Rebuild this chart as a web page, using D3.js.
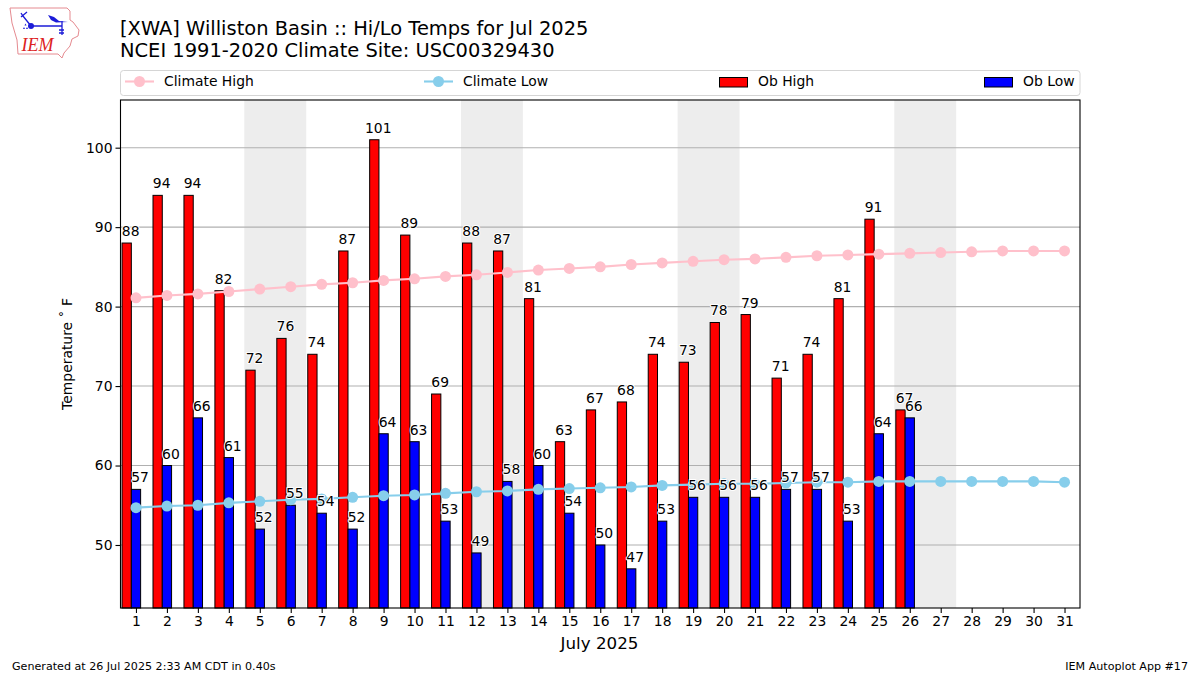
<!DOCTYPE html>
<html><head><meta charset="utf-8">
<script src="https://cdn.jsdelivr.net/npm/d3@7/dist/d3.min.js"></script>
<style>html,body{margin:0;padding:0;background:#fff}svg{display:block}text{font-family:"DejaVu Sans",sans-serif;fill:#000}</style>
</head><body><svg id="c" width="1200" height="675"></svg>
<script>
const days = d3.range(1, 32);
const obHigh = [88,94,94,82,72,76,74,87,101,89,69,88,87,81,63,67,68,74,73,78,79,71,74,81,91,67];
const obLow = [57,60,66,61,52,55,54,52,64,63,53,49,58,60,54,50,47,53,56,56,56,57,57,53,64,66];
const climateHigh = [81.1,81.4,81.6,81.9,82.2,82.5,82.8,83.0,83.3,83.5,83.8,84.0,84.3,84.6,84.8,85.0,85.3,85.5,85.7,85.9,86.0,86.2,86.4,86.5,86.6,86.7,86.8,86.9,87.0,87.0,87.0];
const climateLow = [54.7,54.9,55.0,55.3,55.5,55.7,55.8,56.0,56.2,56.3,56.5,56.7,56.8,57.0,57.1,57.2,57.3,57.5,57.6,57.7,57.7,57.8,57.9,57.9,58.0,58.0,58.0,58.0,58.0,58.0,57.9];
const weekends = [[5,6],[12,13],[19,20],[26,27]];
const yTicks = [50,60,70,80,90,100];
const titleLines = ["[XWA] Williston Basin :: Hi/Lo Temps for Jul 2025","NCEI 1991-2020 Climate Site: USC00329430"];

const L=120.5,R=1080,T=100,B=608;
const svg=d3.select("#c");
const x=d3.scaleLinear().domain([0.5,31.5]).range([L,R]);
const y=d3.scaleLinear().domain([42.07,106]).range([B,T]);
const barW=0.3;
const plot=svg.append("g");

plot.selectAll("rect.wk").data(weekends).join("rect").attr("class","wk")
  .attr("x",d=>x(d[0]-0.5)).attr("width",d=>x(d[1]+0.5)-x(d[0]-0.5))
  .attr("y",T).attr("height",B-T).attr("fill","#ededed");
plot.selectAll("line.g").data(yTicks).join("line").attr("class","g")
  .attr("x1",L).attr("x2",R).attr("y1",d=>y(d)).attr("y2",d=>y(d))
  .attr("stroke","#b0b0b0").attr("stroke-width",1.1);

function bars(vals,off,col){
  plot.selectAll("rect.b"+col).data(vals).join("rect").attr("class","b"+col)
   .attr("x",(d,i)=>x(days[i]+off-barW/2)).attr("width",x(barW)-x(0))
   .attr("y",d=>y(d)).attr("height",d=>B-y(d))
   .attr("fill",col).attr("stroke","#000").attr("stroke-width",1);
}
bars(obHigh,-0.3,"red");
bars(obLow,0,"blue");

function climate(vals,col){
  const line=d3.line().x((d,i)=>x(days[i])).y(d=>y(d));
  plot.append("path").attr("d",line(vals)).attr("fill","none").attr("stroke",col).attr("stroke-width",2.1);
  plot.selectAll("circle.c"+col).data(vals).join("circle").attr("class","c"+col)
   .attr("cx",(d,i)=>x(days[i])).attr("cy",d=>y(d)).attr("r",5.5).attr("fill",col);
}
climate(climateHigh,"pink");
climate(climateLow,"skyblue");

function labels(vals,off){
  const g=plot.append("g");
  g.selectAll("text").data(vals).join("text")
   .attr("x",(d,i)=>x(days[i]+off)+4).attr("y",d=>y(d)-7)
   .attr("text-anchor","middle").attr("font-size",13.9).text(d=>d)
   .attr("stroke","#fff").attr("stroke-width",2).attr("paint-order","stroke").attr("stroke-linejoin","round");
}
labels(obHigh,-0.3);
labels(obLow,0);

plot.append("rect").attr("x",L).attr("y",T).attr("width",R-L).attr("height",B-T)
  .attr("fill","none").attr("stroke","#000").attr("stroke-width",1.1);

const xAxis=d3.axisBottom(x).tickValues(days).tickFormat(d3.format("d")).tickSize(5).tickPadding(3);
const gx=svg.append("g").attr("transform",`translate(0,${B})`).call(xAxis);
gx.select(".domain").remove();
gx.selectAll("text").attr("font-size",13.9).attr("font-family",'"DejaVu Sans"');
gx.selectAll("line").attr("stroke","#000").attr("stroke-width",1.1);
const yAxis=d3.axisLeft(y).tickValues(yTicks).tickSize(5).tickPadding(3);
const gy=svg.append("g").attr("transform",`translate(${L},0)`).call(yAxis);
gy.select(".domain").remove();
gy.selectAll("text").attr("font-size",13.9).attr("font-family",'"DejaVu Sans"');
gy.selectAll("line").attr("stroke","#000").attr("stroke-width",1.1);

svg.append("text").attr("x",599.5).attr("y",649).attr("text-anchor","middle").attr("font-size",16.7).text("July 2025");
svg.append("text").attr("transform","translate(72,354) rotate(-90)").attr("text-anchor","middle").attr("font-size",13.9).text("Temperature \u02DA F");

svg.selectAll("text.t").data(titleLines).join("text").attr("class","t")
  .attr("x",120).attr("y",(d,i)=>35+i*22).attr("font-size",19.45).text(d=>d);

svg.append("text").attr("x",12).attr("y",670).attr("font-size",11.12).text("Generated at 26 Jul 2025 2:33 AM CDT in 0.40s");
svg.append("text").attr("x",1188).attr("y",670).attr("text-anchor","end").attr("font-size",11.12).text("IEM Autoplot App #17");

// legend
const lg=svg.append("g");
lg.append("rect").attr("x",120.5).attr("y",70.5).attr("width",959.5).attr("height",25).attr("rx",3)
  .attr("fill","#fff").attr("stroke","#d5d5d5").attr("stroke-width",1);
const legendLines=[{n:"Climate High",c:"pink",x0:125,tx:164},{n:"Climate Low",c:"skyblue",x0:424,tx:463}];
const legendBars=[{n:"Ob High",c:"red",x0:719.5,tx:758},{n:"Ob Low",c:"blue",x0:984.5,tx:1023}];
legendLines.forEach(d=>{
  lg.append("line").attr("x1",d.x0).attr("x2",d.x0+29).attr("y1",81.5).attr("y2",81.5).attr("stroke",d.c).attr("stroke-width",2.1);
  lg.append("circle").attr("cx",d.x0+14.5).attr("cy",81.5).attr("r",5.5).attr("fill",d.c);
  lg.append("text").attr("x",d.tx).attr("y",86).attr("font-size",13.9).text(d.n);
});
legendBars.forEach(d=>{
  lg.append("rect").attr("x",d.x0).attr("y",77.5).attr("width",28).attr("height",9.5).attr("fill",d.c).attr("stroke","#000").attr("stroke-width",1);
  lg.append("text").attr("x",d.tx).attr("y",86).attr("font-size",13.9).text(d.n);
});

// logo
const logo=svg.append("g");
logo.append("path").attr("d","M10,8 L67,8 L70,11 L70,20 L73,22 L79,30 L78,36 L72,39 L70,46 L64,53 L62,58 L58,54 L18,54 L17,40 L12,23 Z")
  .attr("fill","none").attr("stroke","#e58a90").attr("stroke-width",1);
logo.append("path").attr("d","M31,26 L62,26 M31,26 L23,16 L21,13 M21,17 L27,12 M62,21 L62,35 M59,30 L64,30 M59,33 L64,33")
  .attr("fill","none").attr("stroke","#1c1cd8").attr("stroke-width",1.3);
logo.append("path").attr("d","M48,15 L54,17 L59,21 L68,22 L56,22.5 L51,20 Z").attr("fill","#1c1cd8");
logo.append("circle").attr("cx",31).attr("cy",26).attr("r",3).attr("fill","#1c1cd8");
logo.append("path").attr("d","M23,29 L25,29 L24,27 Z M26,29 L28,29 L27,27 Z M24.5,25.5 L26.5,25.5 L25.5,23.5 Z").attr("fill","#1c1cd8");
logo.append("text").attr("x",21.5).attr("y",51).attr("font-size",18).attr("font-style","italic")
  .style("font-family","'Liberation Serif',serif").style("fill","#d22").text("IEM");
</script></body></html>
